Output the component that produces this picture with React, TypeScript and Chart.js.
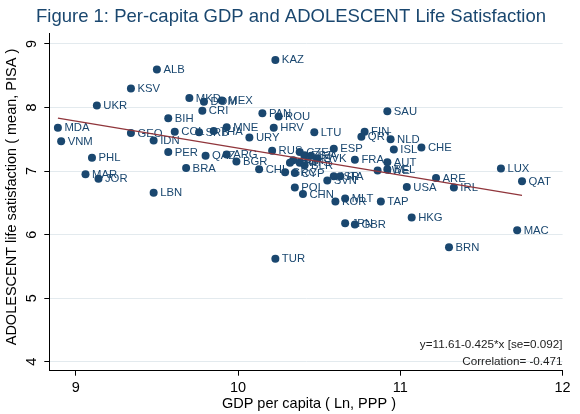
import React, { useEffect, useRef } from "react";
import { Chart, registerables } from "chart.js";

Chart.register(...registerables);

const countries = [
  "KAZ", "ALB", "KSV", "UKR", "MKD", "DOM", "MEX", "CRI", "PAN", "ROU",
  "BIH", "MDA", "GEO", "COL", "SRB", "THA", "MNE", "HRV", "URY", "VNM",
  "IDN", "PER", "RUS", "QAZ", "ARG", "BGR", "PHL", "BRA", "CHL", "GRC",
  "MAR", "JOR", "LBN", "SAU", "LTU", "FIN", "QRT", "NLD", "ISL", "CHE",
  "ESP", "FRA", "AUT", "SWE", "BEL", "LUX", "QAT", "ARE", "USA", "IRL",
  "POL", "CHN", "KOR", "MLT", "TAP", "HKG", "JPN", "GBR", "TUR", "SVN",
  "ISR", "ITA", "MAC", "BRN", "CZE", "EST", "LVA", "SVK", "HUN", "PRT",
  "MYS", "BLR", "CYP",
];
const gdpLn = [
  10.23, 9.5, 9.34, 9.13, 9.7, 9.79, 9.9, 9.78, 10.15, 10.25,
  9.57, 8.89, 9.34, 9.61, 9.76, 9.85, 9.93, 10.22, 10.07, 8.91,
  9.48, 9.57, 10.21, 9.8, 9.93, 9.99, 9.1, 9.68, 10.13, 10.29,
  9.06, 9.14, 9.48, 10.92, 10.47, 10.78, 10.76, 10.94, 10.96, 11.13,
  10.59, 10.72, 10.92, 10.86, 10.92, 11.62, 11.75, 11.22, 11.04, 11.33,
  10.35, 10.4, 10.6, 10.66, 10.88, 11.07, 10.66, 10.72, 10.23, 10.55,
  10.59, 10.63, 11.72, 11.3, 10.38, 10.41, 10.45, 10.49, 10.34, 10.32,
  10.38, 10.41, 10.35,
];
const lifeSat = [
  8.75, 8.6, 8.3, 8.03, 8.15, 8.09, 8.11, 7.95, 7.91, 7.86,
  7.83, 7.68, 7.6, 7.62, 7.61, 7.63, 7.69, 7.68, 7.53, 7.47,
  7.48, 7.3, 7.32, 7.24, 7.26, 7.15, 7.21, 7.05, 7.03, 6.98,
  6.95, 6.88, 6.66, 7.94, 7.61, 7.62, 7.54, 7.5, 7.34, 7.37,
  7.35, 7.18, 7.14, 7.01, 7.03, 7.04, 6.84, 6.89, 6.75, 6.74,
  6.74, 6.64, 6.52, 6.57, 6.52, 6.27, 6.18, 6.16, 5.62, 6.85,
  6.92, 6.92, 6.07, 5.8, 7.3, 7.25, 7.24, 7.2, 7.17, 7.13,
  7.13, 7.09, 6.97,
];
const xTicks = [9, 10, 11, 12];
const yTicks = [4, 5, 6, 7, 8, 9];
const fitIntercept = 11.61;
const fitSlope = -0.425;
const fitNotes = ["y=11.61-0.425*x [se=0.092]", "Correlation= -0.471"];
const titleText = "Figure 1: Per-capita GDP and ADOLESCENT Life Satisfaction";
const xTitle = "GDP per capita ( Ln, PPP )";
const yTitle = "ADOLESCENT life satisfaction ( mean, PISA )";

const NAVY = "#1a476f";
const FONT = "'Liberation Sans', Arial, sans-serif";

const labelPlugin = {
  id: "pointLabels",
  afterDatasetDraw(chart: any, args: any) {
    if (args.index !== 1) return;
    const ctx = chart.ctx;
    const xs = chart.scales.x;
    const ys = chart.scales.y;
    ctx.save();
    ctx.font = `11.3px ${FONT}`;
    ctx.fillStyle = NAVY;
    ctx.textBaseline = "middle";
    ctx.textAlign = "left";
    countries.forEach((c, i) => {
      ctx.fillText(c, xs.getPixelForValue(gdpLn[i]) + 6.5, ys.getPixelForValue(lifeSat[i]) + 0.5);
    });
    ctx.restore();
  },
};

const textPlugin = {
  id: "stataText",
  afterDraw(chart: any) {
    const ctx = chart.ctx;
    const xs = chart.scales.x;
    const ys = chart.scales.y;
    const area = chart.chartArea;
    ctx.save();
    // title
    ctx.fillStyle = NAVY;
    ctx.font = `18.5px ${FONT}`;
    ctx.textAlign = "center";
    ctx.textBaseline = "middle";
    ctx.fillText(titleText, 291, 17);

    ctx.fillStyle = "#000";
    ctx.font = `14.5px ${FONT}`;
    // x tick labels
    xTicks.forEach((v) => ctx.fillText(String(v), xs.getPixelForValue(v), 388));
    // x title
    ctx.fillText(xTitle, (area.left + area.right) / 2 + 3, 404);
    // y tick labels, rotated
    yTicks.forEach((v) => {
      ctx.save();
      ctx.translate(32, ys.getPixelForValue(v));
      ctx.rotate(-Math.PI / 2);
      ctx.fillText(String(v), 0, 0);
      ctx.restore();
    });
    // y title
    ctx.save();
    ctx.translate(12, 197);
    ctx.rotate(-Math.PI / 2);
    ctx.fillText(yTitle, 0, 0);
    ctx.restore();
    // fit notes
    ctx.font = `11.7px ${FONT}`;
    ctx.textAlign = "right";
    ctx.fillStyle = "#222";
    ctx.fillText(fitNotes[0], area.right, 345);
    ctx.fillText(fitNotes[1], area.right, 362);
    ctx.restore();
  },
};

const App = () => {
  const chartRef = useRef<HTMLCanvasElement>(null);

  useEffect(() => {
    if (!chartRef.current) return;
    const ctx = chartRef.current.getContext("2d");
    if (!ctx) return;

    const xMin = Math.min(...gdpLn);
    const xMax = Math.max(...gdpLn);

    const chart = new Chart(ctx, {
      type: "scatter",
      data: {
        datasets: [
          {
            type: "line",
            data: [
              { x: xMin, y: fitIntercept + fitSlope * xMin },
              { x: xMax, y: fitIntercept + fitSlope * xMax },
            ],
            borderColor: "#90353b",
            borderWidth: 1.3,
            pointRadius: 0,
            order: 0,
          },
          {
            data: gdpLn.map((x, i) => ({ x, y: lifeSat[i] })),
            backgroundColor: NAVY,
            borderWidth: 0,
            pointRadius: 4,
            pointHoverRadius: 4,
            order: 1,
          },
        ],
      } as any,
      options: {
        animation: false,
        responsive: false,
        events: [],
        layout: { padding: { top: 33, right: 17.4, left: 0, bottom: 0 } },
        scales: {
          x: {
            type: "linear",
            min: 8.837,
            max: 12,
            afterBuildTicks: (s: any) => {
              s.ticks = xTicks.map((value) => ({ value }));
            },
            afterFit: (s: any) => {
              s.height = 43.3;
            },
            ticks: { display: false },
            grid: { drawOnChartArea: false, drawTicks: true, tickLength: 5, tickColor: "#000" },
            border: { color: "#000", width: 1 },
          },
          y: {
            type: "linear",
            min: 3.858,
            max: 9.173,
            afterBuildTicks: (s: any) => {
              s.ticks = yTicks.map((value) => ({ value }));
            },
            afterFit: (s: any) => {
              s.width = 49.3;
            },
            ticks: { display: false },
            grid: { color: "#e3eaee", drawTicks: true, tickLength: 5, tickColor: "#000" },
            border: { color: "#000", width: 1 },
          },
        },
        plugins: {
          legend: { display: false },
          tooltip: { enabled: false },
        },
      } as any,
      plugins: [labelPlugin, textPlugin],
    });

    return () => {
      chart.destroy();
    };
  }, []);

  return (
    <div style={{ position: "absolute", left: 0, top: 0, width: 580, height: 414, background: "#fff" }}>
      <canvas ref={chartRef} width={580} height={414} />
    </div>
  );
};

export default App;
